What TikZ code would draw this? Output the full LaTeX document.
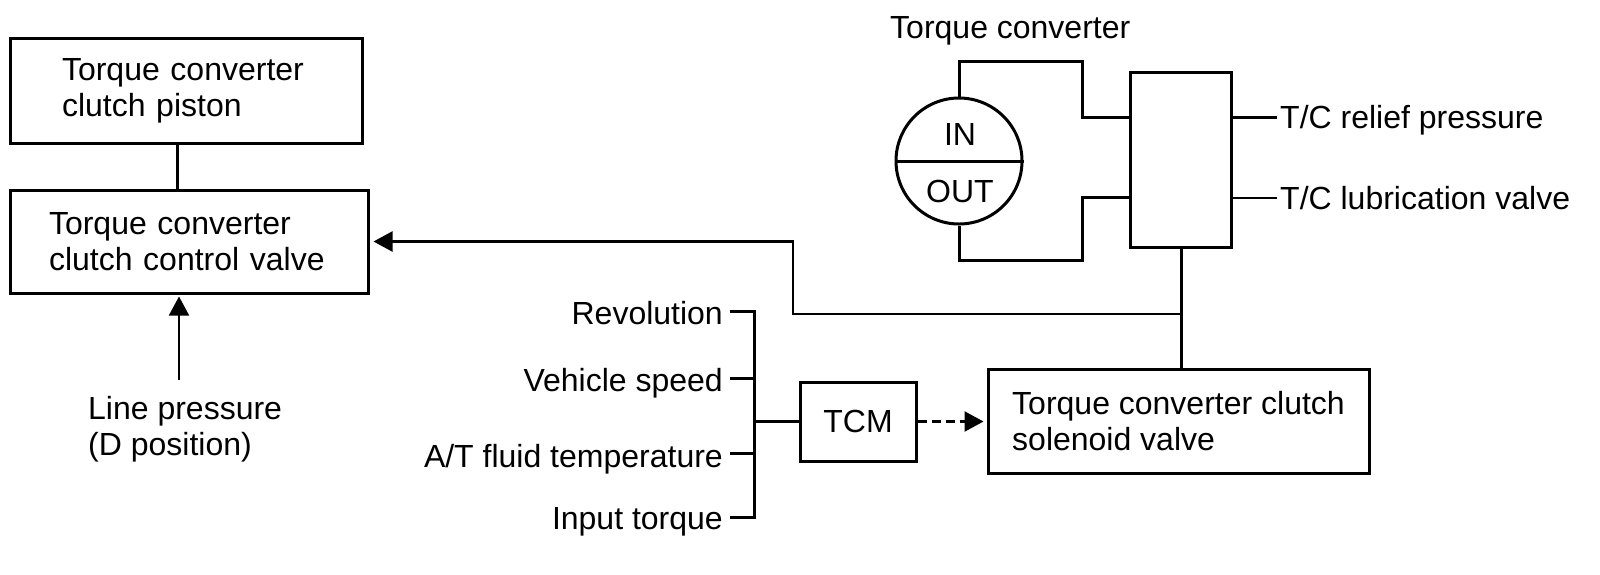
\documentclass[tikz,border=0pt]{standalone}
\usepackage{fontspec}
\setmainfont{Liberation Sans}
\usetikzlibrary{arrows.meta,calc}
\newcommand\tcfont{\fontsize{32}{36}\selectfont}
\begin{document}
\begin{tikzpicture}[x=1pt,y=-1pt,
  box/.style={draw, line width=3pt, inner sep=0pt, font=\tcfont, align=left},
  lbl/.style={inner sep=0pt, font=\tcfont, text height=23pt, text depth=0pt},
  ln/.style={line width=3pt},
  thinln/.style={line width=2.3pt},
  tip/.style={-{Triangle[length=19pt,width=20pt]}}]
\fill[white] (0,0) rectangle (1600,574);
\useasboundingbox (0,0) rectangle (1600,574);

% left boxes
\node[box, minimum width=352pt, minimum height=105pt, text width=248pt] (piston) at (186,90.5) {Torque converter\\clutch piston};
\node[box, minimum width=358pt, minimum height=103pt, text width=280pt] (cv) at (189,241.5) {Torque converter\\clutch control valve};
\coordinate (pc) at (177,0);
\draw[ln] (pc |- piston.south) -- (pc |- cv.north);

% line pressure
\node[inner sep=0pt, font=\tcfont, align=left, anchor=base west] (lp) at (88,455) {Line pressure\\(D position)};
\coordinate (lpx) at (179,0);
\draw[line width=1.8pt, tip, shorten <=16pt, shorten >=2pt] (lp.north -| lpx) -- (cv.south -| lpx);

% torque converter
\node[lbl, anchor=west] (tclbl) at (890,27) {Torque converter};
\node[circle, draw, ln, minimum size=126pt, inner sep=0pt] (tc) at (959,161) {};
\draw[ln] (tc.west) -- (tc.east);
\node[lbl] (in) at (960,134) {IN};
\node[lbl] (out) at (960,191) {OUT};

% valve block
\node[draw, ln, minimum width=101pt, minimum height=175pt, inner sep=0pt] (valve) at (1181,159.5) {};
\coordinate (k1) at (1082,117);
\coordinate (k2) at (1082,197);
\draw[ln] (tc.north) |- (1082,61) -- (k1) -- (k1 -| valve.west);
\draw[ln] (tc.south) |- (1082,260) -- (k2) -- (k2 -| valve.west);

\node[lbl, anchor=west] (rel) at (1280,117) {T/C relief pressure};
\node[lbl, anchor=west] (lub) at (1280,198) {T/C lubrication valve};
\draw[ln, shorten >=3pt] (rel.west -| valve.east) -- (rel.west);
\draw[thinln, shorten >=3pt] (lub.west -| valve.east) -- (lub.west);

% solenoid
\node[box, minimum width=381pt, minimum height=104pt] (sol) at (1178.5,421) {Torque converter clutch\\solenoid valve};
\draw[ln] (valve.south) -- (valve.south |- sol.north);
\coordinate (jy) at (0,314);
\coordinate (mx) at (793,0);
\coordinate (j) at (valve.south |- jy);
\coordinate (m) at (mx |- jy);
\draw[thinln, tip, shorten >=4pt] (j) -- (m) |- (cv.east);

% TCM
\node[box, minimum width=116pt, minimum height=79pt] (tcm) at (858,421.5) {TCM};
\draw[thinln, tip, dash pattern=on 9pt off 5pt, shorten >=3pt] (tcm.east) -- (tcm.east -| sol.west);

% inputs
\node[lbl, anchor=east] (rev) at (723,313) {Revolution};
\node[lbl, anchor=east] (veh) at (723,380) {Vehicle speed};
\node[lbl, anchor=east] (atf) at (723,456) {A/T fluid temperature};
\node[lbl, anchor=east] (inp) at (723,518) {Input torque};
\coordinate (bus) at (754,0);
\coordinate (b1) at (754,311);
\coordinate (b2) at (754,378);
\coordinate (b3) at (754,453);
\coordinate (b4) at (754,517);
\draw[ln, shorten <=7pt, shorten >=7pt] (b1 -| rev.east) -- (b1) -- (b4) -- (b4 -| inp.east);
\draw[ln, shorten >=7pt] (b2) -- (b2 -| veh.east);
\draw[ln, shorten >=7pt] (b3) -- (b3 -| atf.east);
\draw[thinln] (bus |- tcm.west) -- (tcm.west);
\end{tikzpicture}
\end{document}
